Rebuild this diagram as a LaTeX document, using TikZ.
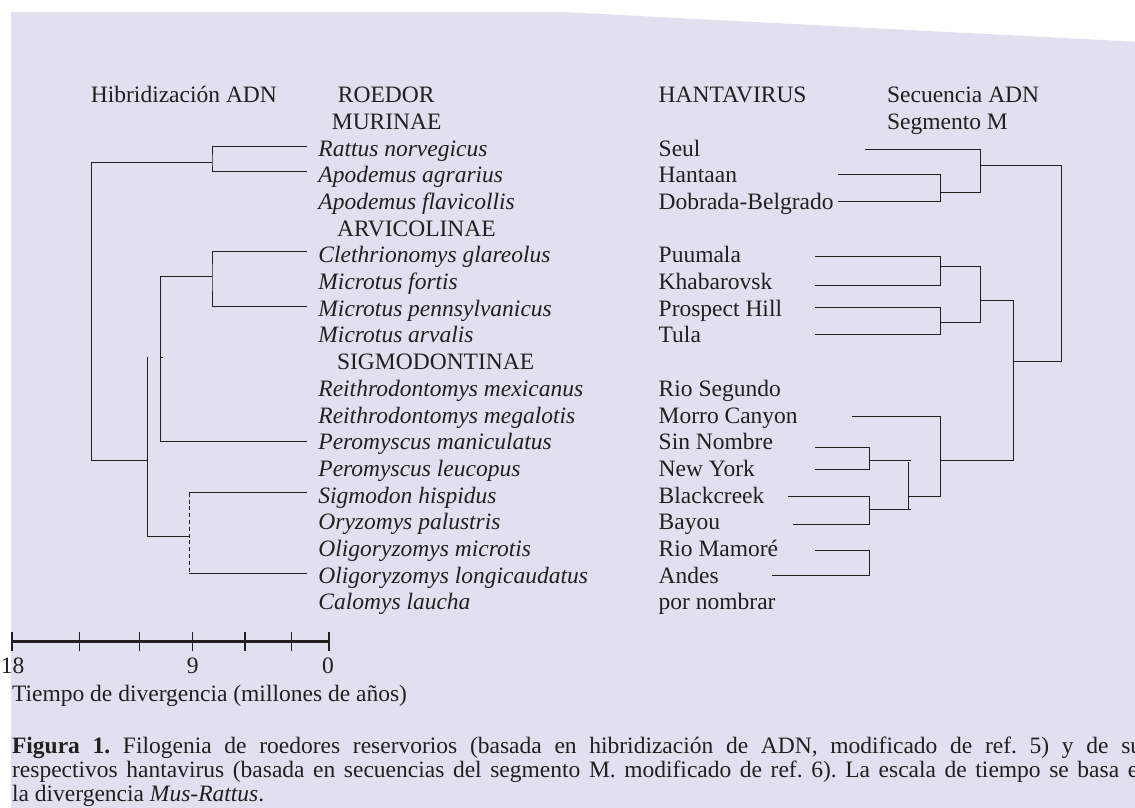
\documentclass[tikz,border=0pt]{standalone}
\usepackage{fontspec}
\setmainfont{Liberation Serif}
\definecolor{fondo}{RGB}{224,224,238}
\definecolor{tinta}{RGB}{35,31,32}
\frenchspacing

\begin{document}
\begin{tikzpicture}[x=0.5pt, y=-0.5pt,
  txt/.style={anchor=base west, inner sep=0pt, text=tinta, font=\fontsize{11.75}{13}\selectfont},
  sp/.style={txt, font=\fontsize{11.75}{13}\selectfont\itshape},
  mid/.style={txt, anchor=base},
  br/.style={draw=tinta, line width=0.5pt},
  barra/.style={draw=tinta, line width=1.7pt},
  tick/.style={draw=tinta, line width=0.6pt}
]
\useasboundingbox (0,0) rectangle (1135,808);
\clip (0,0) rectangle (1135,808);

% --- background ---
\fill[fondo] (11,12) -- (562,12) -- (1135,41.7) -- (1135,808) -- (11,808) -- cycle;

% --- headings ---
\node[txt] (hib) at (90.5,102.6) {Hibridización ADN};
\node[mid] (roe) at (386.3,102.6) {ROEDOR};
\node[mid] (mrn) at (386.7,129.3) {MURINAE};
\node[txt] (hnt) at (658.3,102.6) {HANTAVIRUS};
\node[txt] (sec) at (886.7,102.6) {Secuencia ADN};
\node[txt] (seg) at (886.7,129.3) {Segmento M};

% --- rodents ---
\node[sp] (rn) at (318,156)   {Rattus norvegicus};
\node[sp] (aa) at (318,182.7) {Apodemus agrarius};
\node[sp] (af) at (318,209.4) {Apodemus flavicollis};
\node[txt] (avc) at (336.7,236.1) {ARVICOLINAE};
\node[sp] (cg) at (318,262.8) {Clethrionomys glareolus};
\node[sp] (mf) at (318,289.5) {Microtus fortis};
\node[sp] (mp) at (318,316.2) {Microtus pennsylvanicus};
\node[sp] (ma) at (318,342.9) {Microtus arvalis};
\node[txt] (sgd) at (336.7,369.6) {SIGMODONTINAE};
\node[sp] (rmx) at (318,396.3) {Reithrodontomys mexicanus};
\node[sp] (rmg) at (318,423)   {Reithrodontomys megalotis};
\node[sp] (pm) at (318,449.7) {Peromyscus maniculatus};
\node[sp] (pl) at (318,476.4) {Peromyscus leucopus};
\node[sp] (sh) at (318,503.1) {Sigmodon hispidus};
\node[sp] (op) at (318,529.8) {Oryzomys palustris};
\node[sp] (om) at (318,556.5) {Oligoryzomys microtis};
\node[sp] (ol) at (318,583.2) {Oligoryzomys longicaudatus};
\node[sp] (cl) at (318,609.9) {Calomys laucha};

% --- hantaviruses ---
\node[txt] (v1)  at (658.3,156)   {Seul};
\node[txt] (v2)  at (658.3,182.7) {Hantaan};
\node[txt] (v3)  at (658.3,209.4) {Dobrada-Belgrado};
\node[txt] (v4)  at (658.3,262.8) {Puumala};
\node[txt] (v5)  at (658.3,289.5) {Khabarovsk};
\node[txt] (v6)  at (658.3,316.2) {Prospect Hill};
\node[txt] (v7)  at (658.3,342.9) {Tula};
\node[txt] (v8)  at (658.3,396.3) {Rio Segundo};
\node[txt] (v9)  at (658.3,423)   {Morro Canyon};
\node[txt] (v10) at (658.3,449.7) {Sin Nombre};
\node[txt] (v11) at (658.3,476.4) {New York};
\node[txt] (v12) at (658.3,503.1) {Blackcreek};
\node[txt] (v13) at (658.3,529.8) {Bayou};
\node[txt] (v14) at (658.3,556.5) {Rio Mamoré};
\node[txt] (v15) at (658.3,583.2) {Andes};
\node[txt] (v16) at (658.3,609.9) {por nombrar};

% --- rodent tree (DNA hybridization) ---
\coordinate (rat) at (307,146.7);
\coordinate (apa) at (307,171);
\coordinate (cle) at (307,251.7);
\coordinate (mpe) at (307,306.7);
\coordinate (pma) at (307,441.7);
\coordinate (sig) at (307,492.7);
\coordinate (olo) at (307,573.3);
\coordinate (mur) at (212,162);
\coordinate (arv) at (212,276.7);
\coordinate (neo) at (160.3,357);
\coordinate (sgm) at (189.3,536);
\coordinate (cri) at (147.3,460);
\coordinate (raiz) at (91.7,300);

\draw[br] (rat) -| (mur) |- (apa);
\draw[br] (cle) -| (arv) |- (mpe);
\draw[br] (arv) -| (neo) |- (pma);
\draw[br] (neo) -- ++(2.7,0);
\draw[br] (sig) -- (sig -| sgm);
\draw[br] (olo) -- (olo -| sgm);
\draw[br, dash pattern=on 2pt off 1.4pt] (sig -| sgm) -- (olo -| sgm);
\draw[br] (neo -| cri) |- (sgm);
\draw[br] (mur) -| (raiz) |- (cri);

% --- virus tree (M segment) ---
\coordinate (seu) at (865,150);
\coordinate (han) at (838.3,174.3);
\coordinate (dob) at (838.3,201.7);
\coordinate (puu) at (815,256);
\coordinate (kha) at (815,285.7);
\coordinate (pro) at (815,307.3);
\coordinate (tul) at (815,334);
\coordinate (mor) at (851.7,416.7);
\coordinate (sno) at (815,447.3);
\coordinate (nyk) at (815,469.3);
\coordinate (bla) at (788.3,496.7);
\coordinate (bay) at (792.7,524.3);
\coordinate (rmo) at (815,550);
\coordinate (ande) at (771.7,575.3);
\coordinate (hd) at (940.7,192.3);
\coordinate (old) at (980,165.7);
\coordinate (pk) at (940.7,266);
\coordinate (pt) at (940.7,322.3);
\coordinate (arh) at (980,300);
\coordinate (nue) at (1013.3,361.7);
\coordinate (tope) at (1061,250);
\coordinate (sgh) at (940.7,460);
\coordinate (sn) at (869.3,460);
\coordinate (bb) at (869.3,509.3);
\coordinate (pbx) at (908.3,496.7);
\coordinate (pbu) at (908.3,461.7);
\coordinate (pbd) at (908.3,510);
\coordinate (rm) at (869.3,562);

\draw[br] (han) -| (hd) |- (dob);
\draw[br] (seu) -| (old) |- (hd);
\draw[br] (puu) -| (pk) |- (kha);
\draw[br] (pro) -| (pt) |- (tul);
\draw[br] (pk) -| (arh) |- (pt);
\draw[br] (arh) -| (nue) |- (sgh);
\draw[br] (old) -| (tope) |- (nue);
\draw[br] (mor) -| (sgh) |- (pbx);
\draw[br] (sno) -| (sn) |- (nyk);
\draw[br] (bla) -| (bb) |- (bay);
\draw[br] (sn) -- ++(41.4,0);
\draw[br] (bb) -- ++(41.4,0);
\draw[br] (pbu) -- (pbd);
\draw[br] (rmo) -| (rm) |- (ande);

% --- time scale ---
\coordinate (e18) at (11.7,641.7);
\coordinate (e0) at (329.3,641.7);
\draw[barra] (e18) -- (e0);
\draw[tick, line width=0.9pt] (11.7,632) -- (11.7,651);
\draw[tick] (79.3,632) -- (79.3,651);
\draw[tick] (139.3,632) -- (139.3,651);
\draw[tick] (192.7,632) -- (192.7,651);
\draw[tick] (245,632) -- (245,651);
\draw[tick] (291.7,632) -- (291.7,651);
\draw[tick, line width=0.9pt] (329.3,632) -- (329.3,651);
\node[mid] (t18) at (12.5,673) {18};
\node[mid] (t9) at (192.7,673) {9};
\node[mid] (t0) at (328,673) {0};
\node[txt] (tdv) at (11.7,701) {Tiempo de divergencia (millones de años)};

% --- caption ---
\node[txt] (c1) at (11.7,753) {\makebox[565pt][s]{\textbf{Figura 1.} Filogenia de roedores reservorios (basada en hibridización de ADN, modificado de ref. 5) y de su}};
\node[txt] (c2) at (11.7,777) {\makebox[563pt][s]{respectivos hantavirus (basada en secuencias del segmento M. modificado de ref. 6). La escala de tiempo se basa e}};
\node[txt] (c3) at (11.7,801) {la divergencia \textit{Mus-Rattus}.};

\end{tikzpicture}
\end{document}
